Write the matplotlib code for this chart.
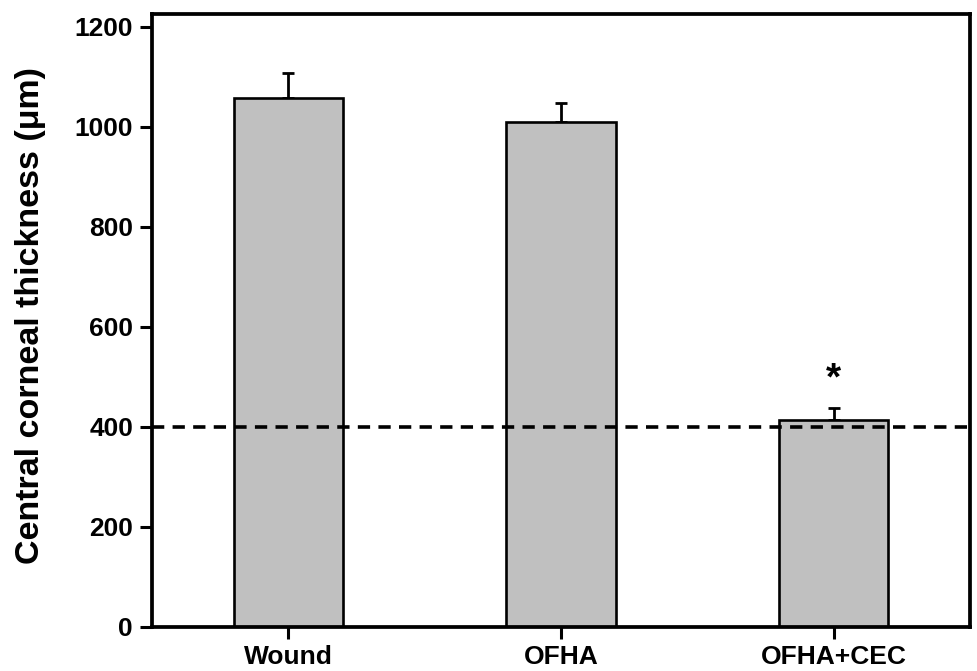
import matplotlib
matplotlib.use("Agg")
import matplotlib.pyplot as plt

# values
groups = ["Wound", "OFHA", "OFHA+CEC"]
thickness = [1058, 1010, 415]
thickness_err = [50, 38, 24]
baseline = 400
yticks = [0, 200, 400, 600, 800, 1000, 1200]

plt.rcParams["font.family"] = ["Liberation Sans", "DejaVu Sans"]
plt.rcParams["font.weight"] = "bold"

fig = plt.figure(figsize=(9.77, 6.71), dpi=100)
ax = fig.add_axes([152 / 977, 44 / 671, 818 / 977, 613 / 671])

x = list(range(len(groups)))
ax.bar(x, thickness, width=0.4, color="#c0c0c0", edgecolor="black",
       linewidth=1.9, zorder=2)
ax.errorbar(x, thickness, yerr=[[0] * len(x), thickness_err], fmt="none",
            ecolor="black", elinewidth=2.0, capsize=4.5, capthick=2.0, zorder=1)
ax.axhline(baseline, color="black", lw=2.6, linestyle=(0, (3.4, 2.3)), zorder=3)

# significance marker
ax.text(2, thickness[2] + thickness_err[2] + 36, "*", ha="center",
        va="baseline", fontsize=28, fontweight="bold")

ax.set_xlim(-0.5, 2.5)
ax.set_ylim(0, 1226)
ax.set_xticks(x)
ax.set_xticklabels(groups)
ax.set_yticks(yticks)

for sp in ax.spines.values():
    sp.set_linewidth(2.7)
ax.tick_params(axis="y", direction="out", length=8.6, width=2.2,
               labelsize=19, pad=5)
ax.tick_params(axis="x", direction="out", length=8.6, width=2.2,
               labelsize=19, pad=4)
for lab in ax.get_xticklabels() + ax.get_yticklabels():
    lab.set_fontweight("bold")

fig.text(31 / 977, 1 - 316 / 671, "Central corneal thickness (\u03bcm)",
         rotation=90, ha="center", va="center", fontsize=24.5, fontweight="bold")

fig.savefig("out.png", dpi=100)
